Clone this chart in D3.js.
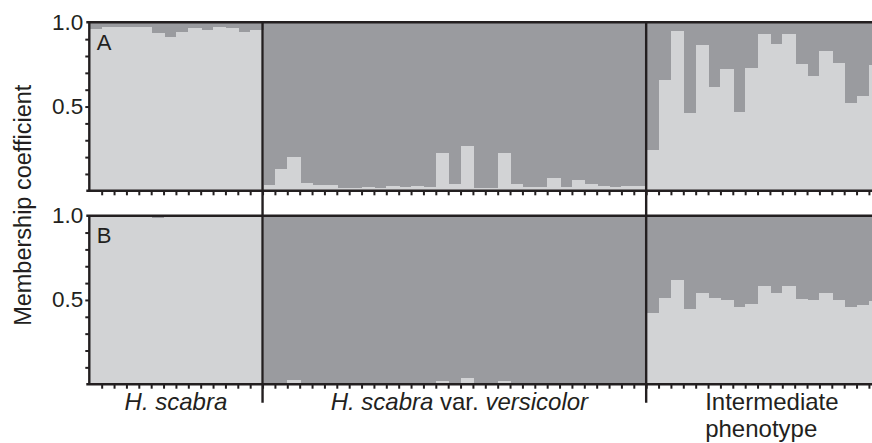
<!DOCTYPE html>
<html>
<head>
<meta charset="utf-8">
<script src="https://cdn.jsdelivr.net/npm/d3@7"></script>
<style>
  body { margin: 0; background: #fff; }
  svg { display: block; font-family: "Liberation Sans", Arial, Helvetica, sans-serif; }
</style>
</head>
<body>
<div id="chart-area"></div>
<script>
// membership coefficient of each individual to the light cluster (dark = 1 - value)
const groups = ["H. scabra", "H. scabra var. versicolor", "Intermediate phenotype"]
const panels = ["A", "B"]
const yTickLabels = [0.5, 1.0]

const scabraA = [0.958, 0.972, 0.972, 0.972, 0.972, 0.937, 0.913, 0.943, 0.968, 0.955, 0.972, 0.966, 0.943, 0.957]
const versicolorA = [0.034, 0.128, 0.200, 0.045, 0.034, 0.034, 0.016, 0.016, 0.022, 0.016, 0.028, 0.022, 0.028, 0.022, 0.223, 0.040,
  0.265, 0.016, 0.016, 0.223, 0.040, 0.022, 0.022, 0.075, 0.022, 0.063, 0.040, 0.028, 0.022, 0.028, 0.028]
const intermediateA = [0.241, 0.656, 0.947, 0.460, 0.864, 0.617, 0.721, 0.466, 0.727, 0.929, 0.872, 0.929, 0.753, 0.680, 0.828, 0.759, 0.520, 0.561, 0.749]

const scabraB = [1.0, 1.0, 1.0, 1.0, 0.996, 0.985, 0.997, 1.0, 1.0, 1.0, 1.0, 1.0, 0.99, 1.0]
const versicolorB = [0.003, 0.003, 0.026, 0.003, 0.003, 0.003, 0.003, 0.003, 0.003, 0.003, 0.003, 0.003, 0.003, 0.003, 0.020, 0.003,
  0.038, 0.003, 0.003, 0.020, 0.003, 0.003, 0.003, 0.003, 0.003, 0.003, 0.003, 0.003, 0.003, 0.003, 0.003]
const intermediateB = [0.425, 0.512, 0.619, 0.447, 0.542, 0.512, 0.500, 0.458, 0.476, 0.583, 0.542, 0.583, 0.506, 0.500, 0.542, 0.500, 0.458, 0.470, 0.494]

const panelData = {
  A: [scabraA, versicolorA, intermediateA],
  B: [scabraB, versicolorB, intermediateB]
}

const WIDTH = 872
const HEIGHT = 443
const LEFT = 89.3
const COL = 12.375
const PANEL_TOP = {A: 22.3, B: 215.7}
const PANEL_H = 168.5
const LIGHT = "#d2d3d5"
const DARK = "#9a9b9f"
const INK = "#231f20"

const sizes = groups.map((gname, i) => panelData.A[i].length)
const starts = sizes.map((s, i) => d3.sum(sizes.slice(0, i)))
const nCols = d3.sum(sizes)

const svg = d3.select("#chart-area").append("svg")
  .attr("width", WIDTH)
  .attr("height", HEIGHT)

const xLin = d3.scaleLinear()
  .domain([0, nCols])
  .range([LEFT, LEFT + nCols * COL])

const x = d3.scaleBand()
  .domain(d3.range(nCols))
  .range([LEFT, LEFT + nCols * COL])
  .padding(0)

panels.forEach(p => {
  const top = PANEL_TOP[p]
  const y = d3.scaleLinear().domain([0, 1]).range([top + PANEL_H, top])
  const g = svg.append("g")

  const cols = []
  panelData[p].forEach((arr, gi) => {
    arr.forEach((v, j) => cols.push({i: starts[gi] + j, v: v}))
  })

  // dark part (top) drawn as full column, light part laid over it from the bottom
  g.selectAll("rect.dark").data(cols).enter().append("rect")
    .attr("class", "dark")
    .attr("x", d => x(d.i))
    .attr("width", x.bandwidth() + 1)
    .attr("y", y(1))
    .attr("height", d => y(0) - y(1))
    .attr("fill", DARK)
    .attr("shape-rendering", "crispEdges")

  g.selectAll("rect.light").data(cols).enter().append("rect")
    .attr("class", "light")
    .attr("x", d => x(d.i))
    .attr("width", x.bandwidth() + 1)
    .attr("y", d => y(d.v))
    .attr("height", d => y(0) - y(d.v))
    .attr("fill", LIGHT)
    .attr("shape-rendering", "crispEdges")

  // x ticks at column boundaries
  const xAxis = d3.axisBottom(xLin)
    .tickValues(d3.range(1, nCols))
    .tickSize(4.5)
    .tickFormat("")
  const xg = g.append("g")
    .attr("transform", `translate(0, ${y(0)})`)
    .call(xAxis)
  xg.select(".domain").remove()
  xg.selectAll("line").attr("stroke", INK).attr("stroke-width", 2)

  // y axis
  const yAxis = d3.axisLeft(y)
    .tickValues(d3.range(1, 10).map(k => k / 10))
    .tickSize(4)
    .tickFormat("")
  const yg = g.append("g")
    .attr("transform", `translate(${LEFT}, 0)`)
    .call(yAxis)
  yg.select(".domain").remove()
  yg.selectAll("line").attr("stroke", INK).attr("stroke-width", 2)

  g.selectAll("text.ylab").data(yTickLabels).enter().append("text")
    .attr("class", "ylab")
    .attr("x", LEFT - 6)
    .attr("y", d => y(d))
    .attr("dy", "0.32em")
    .attr("text-anchor", "end")
    .attr("font-size", "22.5px")
    .attr("fill", INK)
    .text(d => d3.format(".1f")(d))

  // frame
  g.append("line")
    .attr("x1", LEFT - 3).attr("x2", WIDTH)
    .attr("y1", y(1)).attr("y2", y(1))
    .attr("stroke", INK).attr("stroke-width", 2.4)
  g.append("line")
    .attr("x1", LEFT - 3).attr("x2", WIDTH)
    .attr("y1", y(0)).attr("y2", y(0))
    .attr("stroke", INK).attr("stroke-width", 2.4)
  g.append("line")
    .attr("x1", LEFT).attr("x2", LEFT)
    .attr("y1", y(1)).attr("y2", y(0))
    .attr("stroke", INK).attr("stroke-width", 2.4)

  g.append("text")
    .attr("x", LEFT + 7.5)
    .attr("y", top + 27.3)
    .attr("font-size", "22px")
    .attr("fill", INK)
    .text(p)
})

// group dividers
const bottomB = PANEL_TOP.B + PANEL_H
svg.selectAll("line.divider").data(starts.slice(1)).enter().append("line")
  .attr("class", "divider")
  .attr("x1", d => xLin(d)).attr("x2", d => xLin(d))
  .attr("y1", PANEL_TOP.A).attr("y2", bottomB + 18.5)
  .attr("stroke", INK).attr("stroke-width", 2.4)

// y label
svg.append("text")
  .attr("transform", `translate(31, ${(PANEL_TOP.A + bottomB) / 2 + 2}) rotate(-90)`)
  .attr("text-anchor", "middle")
  .attr("font-size", "23.5px")
  .attr("fill", INK)
  .text("Membership coefficient")

// group labels
const lab1 = svg.append("text")
  .attr("x", (xLin(starts[0]) + xLin(starts[1])) / 2)
  .attr("y", bottomB + 25.5)
  .attr("text-anchor", "middle")
  .attr("font-size", "24px")
  .attr("fill", INK)
lab1.append("tspan").attr("font-style", "italic").text("H. scabra")

const lab2 = svg.append("text")
  .attr("x", (xLin(starts[1]) + xLin(starts[2])) / 2 + 5)
  .attr("y", bottomB + 25.5)
  .attr("text-anchor", "middle")
  .attr("font-size", "24px")
  .attr("fill", INK)
lab2.append("tspan").attr("font-style", "italic").text("H. scabra")
lab2.append("tspan").text(" var. ")
lab2.append("tspan").attr("font-style", "italic").text("versicolor")

const lab3 = svg.append("text")
  .attr("x", xLin(starts[2]) + 59)
  .attr("y", bottomB + 25.5)
  .attr("font-size", "24px")
  .attr("fill", INK)
lab3.append("tspan").text("Intermediate")
lab3.append("tspan").attr("x", xLin(starts[2]) + 59).attr("dy", 27.5).text("phenotype")
</script>
</body>
</html>
